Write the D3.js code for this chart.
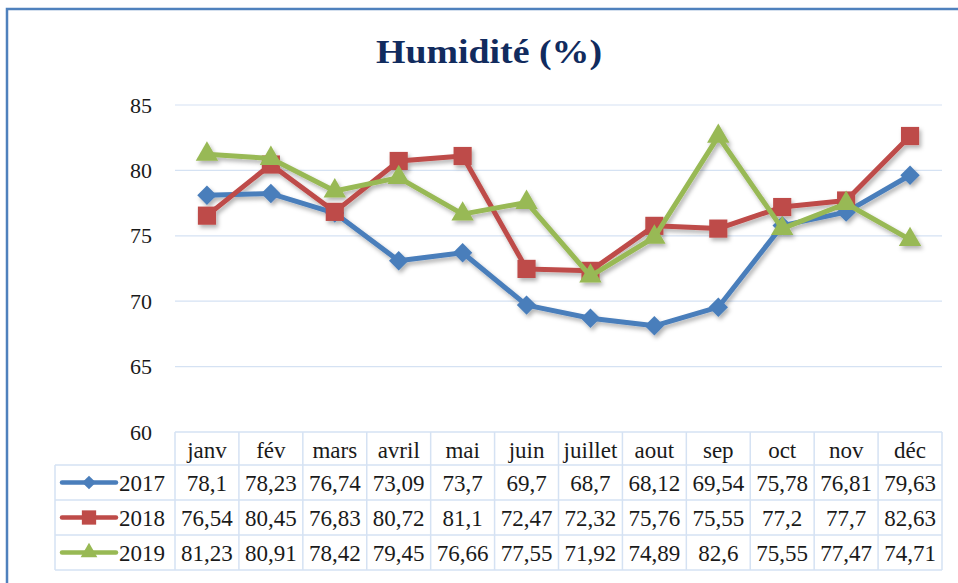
<!DOCTYPE html>
<html>
<head>
<meta charset="utf-8">
<script src="https://cdn.jsdelivr.net/npm/d3@7"></script>
<style>
  body { margin: 0; background: #fff; }
</style>
</head>
<body>
<div id="chart"></div>
<script>
// data
var months = ["janv", "fév", "mars", "avril", "mai", "juin", "juillet", "aout", "sep", "oct", "nov", "déc"];
var years = ["2017", "2018", "2019"];
var v2017 = [78.1, 78.23, 76.74, 73.09, 73.7, 69.7, 68.7, 68.12, 69.54, 75.78, 76.81, 79.63];
var v2018 = [76.54, 80.45, 76.83, 80.72, 81.1, 72.47, 72.32, 75.76, 75.55, 77.2, 77.7, 82.63];
var v2019 = [81.23, 80.91, 78.42, 79.45, 76.66, 77.55, 71.92, 74.89, 82.6, 75.55, 77.47, 74.71];
var yTicks = [60, 65, 70, 75, 80, 85];

var colors = ["#4A7EBB", "#BE4B48", "#98B954"];
var symbols = [d3.symbolDiamond2, d3.symbolSquare2, d3.symbolTriangle2];
var markSize = [240, 420, 360];
var legendSize = [120, 260, 200];

var series = years.map(function(y, i) {
  return { name: y, values: [v2017, v2018, v2019][i], color: colors[i], symbol: symbols[i], size: markSize[i], lsize: legendSize[i] };
});

var width = 958, height = 583;
var plotLeft = 175, plotRight = 942, plotTop = 105, plotBottom = 432;
var tableLeft = 55, headerH = 33, rowH = 35;
var gridColor = "#D5E2F3";
var serif = "'Liberation Serif'";

var svg = d3.select("#chart").append("svg")
  .attr("width", width)
  .attr("height", height);

var defs = svg.append("defs");
var shadow = defs.append("filter").attr("id", "shadow")
  .attr("x", "-10%").attr("y", "-10%").attr("width", "130%").attr("height", "140%");
shadow.append("feDropShadow")
  .attr("dx", 2).attr("dy", 3).attr("stdDeviation", 2)
  .attr("flood-color", "#000").attr("flood-opacity", 0.3);

// frame
svg.append("path")
  .attr("d", "M7,583 V9 H958")
  .attr("fill", "none")
  .attr("stroke", "#4F81BD")
  .attr("stroke-width", 2.5);

// title
svg.append("text")
  .attr("x", 489).attr("y", 63)
  .attr("text-anchor", "middle")
  .attr("font-family", serif)
  .attr("font-size", 34).attr("font-weight", "bold")
  .attr("fill", "#112B5E")
  .attr("textLength", 226)
  .attr("lengthAdjust", "spacingAndGlyphs")
  .text("Humidité (%)");

var x = d3.scaleBand().domain(months).range([plotLeft, plotRight]).padding(0);
var y = d3.scaleLinear().domain([60, 85]).range([plotBottom, plotTop]);

// gridlines
svg.append("g").selectAll("line")
  .data(yTicks.filter(function(d) { return d > 60; }))
  .join("line")
  .attr("x1", plotLeft).attr("x2", plotRight)
  .attr("y1", function(d) { return y(d); })
  .attr("y2", function(d) { return y(d); })
  .attr("stroke", gridColor).attr("stroke-width", 1.2);

// y labels
svg.append("g").selectAll("text")
  .data(yTicks)
  .join("text")
  .attr("x", 152)
  .attr("y", function(d) { return y(d) + 7.5; })
  .attr("text-anchor", "end")
  .attr("font-family", serif)
  .attr("font-size", 22)
  .attr("fill", "#1a1a1a")
  .text(function(d) { return d; });

// lines
var line = d3.line()
  .x(function(d, i) { return x(months[i]) + x.bandwidth() / 2; })
  .y(function(d) { return y(d); });

var plot = svg.append("g").attr("filter", "url(#shadow)");

series.forEach(function(s) {
  var g = plot.append("g");
  g.append("path")
    .attr("d", line(s.values))
    .attr("fill", "none")
    .attr("stroke", s.color)
    .attr("stroke-width", 5)
    .attr("stroke-linejoin", "round");
  g.selectAll("path.mk")
    .data(s.values)
    .join("path")
    .attr("class", "mk")
    .attr("transform", function(d, i) {
      return "translate(" + (x(months[i]) + x.bandwidth() / 2) + "," + y(d) + ")";
    })
    .attr("d", d3.symbol().type(s.symbol).size(s.size))
    .attr("fill", s.color);
});

// data table
var table = svg.append("g");
var tableTop = plotBottom;
var tableBottom = tableTop + headerH + rowH * 3;

// horizontal borders
var hLines = [tableTop, tableTop + headerH, tableTop + headerH + rowH, tableTop + headerH + rowH * 2, tableBottom];
table.selectAll("line.h")
  .data(hLines)
  .join("line")
  .attr("class", "h")
  .attr("x1", function(d, i) { return i == 0 ? plotLeft : tableLeft; })
  .attr("x2", plotRight)
  .attr("y1", function(d) { return d; })
  .attr("y2", function(d) { return d; })
  .attr("stroke", gridColor).attr("stroke-width", 1.5);

// vertical borders
var vLines = [tableLeft].concat(months.map(function(m) { return x(m); })).concat([plotRight]);
table.selectAll("line.v")
  .data(vLines)
  .join("line")
  .attr("class", "v")
  .attr("x1", function(d) { return d; })
  .attr("x2", function(d) { return d; })
  .attr("y1", function(d, i) { return i == 0 ? tableTop + headerH : tableTop; })
  .attr("y2", tableBottom)
  .attr("stroke", gridColor).attr("stroke-width", 1.5);

// header
table.selectAll("text.m")
  .data(months)
  .join("text")
  .attr("class", "m")
  .attr("x", function(d) { return x(d) + x.bandwidth() / 2; })
  .attr("y", tableTop + 26)
  .attr("text-anchor", "middle")
  .attr("font-family", serif)
  .attr("font-size", 23)
  .attr("fill", "#1a1a1a")
  .text(function(d) { return d; });

// rows
series.forEach(function(s, r) {
  var rowY = tableTop + headerH + rowH * r;
  var cy = rowY + rowH / 2;
  table.append("line")
    .attr("x1", 62).attr("x2", 116)
    .attr("y1", cy).attr("y2", cy)
    .attr("stroke", s.color).attr("stroke-width", 4.5)
    .attr("stroke-linecap", "round");
  table.append("path")
    .attr("transform", "translate(89," + cy + ")")
    .attr("d", d3.symbol().type(s.symbol).size(s.lsize))
    .attr("fill", s.color);
  table.append("text")
    .attr("x", 119).attr("y", cy + 8.5)
    .attr("font-family", serif)
    .attr("font-size", 23)
    .attr("fill", "#1a1a1a")
    .text(s.name);
  table.selectAll("text.v" + r)
    .data(s.values)
    .join("text")
    .attr("class", "v" + r)
    .attr("x", function(d, i) { return x(months[i]) + x.bandwidth() / 2; })
    .attr("y", cy + 8.5)
    .attr("text-anchor", "middle")
    .attr("font-family", serif)
    .attr("font-size", 23)
    .attr("fill", "#1a1a1a")
    .text(function(d) { return String(d).replace(".", ","); });
});
</script>
</body>
</html>
